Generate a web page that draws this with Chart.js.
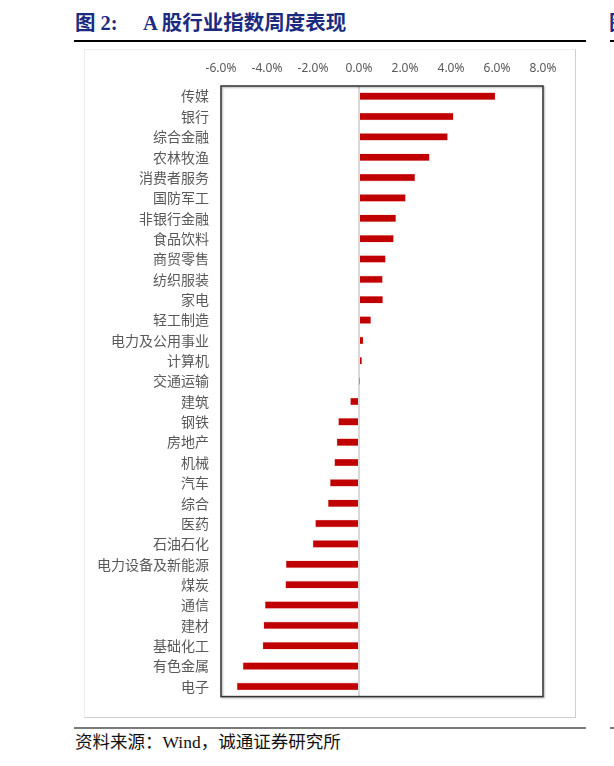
<!DOCTYPE html>
<html>
<head>
<meta charset="utf-8">
<script src="https://cdn.jsdelivr.net/npm/chart.js@4"></script>
<style>
  html, body { margin:0; padding:0; background:#fff; width:614px; height:766px; overflow:hidden; position:relative; }
  .abs { position:absolute; }
  .title { font-family:"Liberation Serif","Noto Sans CJK SC",serif; font-weight:bold; color:#1b2b80; font-size:20.5px; line-height:22px; white-space:nowrap; }
  .foot { font-family:"Liberation Serif","Noto Sans CJK SC",serif; color:#111; font-size:17.5px; line-height:20px; white-space:nowrap; }
</style>
</head>
<body>
<div class="abs title" style="left:75px; top:12px;">图 2:</div>
<div class="abs title" style="left:143px; top:12px;">A 股行业指数周度表现</div>
<div class="abs title" style="left:609px; top:12px;">图</div>
<div class="abs" style="left:74px; top:40px; width:512px; height:1.5px; background:#000;"></div>
<div class="abs" style="left:610px; top:40px; width:10px; height:1.5px; background:#000;"></div>
<div class="abs" style="left:84px; top:49px; width:490px; height:667px; border-top:1px solid #ededed; border-left:1px solid #ededed; border-right:1px solid #cfcfcf; border-bottom:1px solid #cfcfcf;"></div>
<div class="abs" style="left:84px; top:49px; width:491px; height:668px;"><canvas id="c"></canvas></div>
<div class="abs" style="left:74px; top:727px; width:512px; height:2px; background:#7a7a7a;"></div>
<div class="abs" style="left:610px; top:727px; width:10px; height:2px; background:#7a7a7a;"></div>
<div class="abs foot" style="left:75px; top:732px;">资料来源：Wind，诚通证券研究所</div>
<script>
const categories = ["传媒","银行","综合金融","农林牧渔","消费者服务","国防军工","非银行金融","食品饮料","商贸零售","纺织服装","家电","轻工制造","电力及公用事业","计算机","交通运输","建筑","钢铁","房地产","机械","汽车","综合","医药","石油石化","电力设备及新能源","煤炭","通信","建材","基础化工","有色金属","电子"];
const weeklyChange = [5.92,4.10,3.85,3.06,2.43,2.02,1.60,1.50,1.15,1.02,1.03,0.51,0.18,0.12,0.03,-0.37,-0.89,-0.96,-1.06,-1.25,-1.34,-1.89,-2.00,-3.17,-3.19,-4.08,-4.14,-4.18,-5.04,-5.30];
const xTicks = [-6,-4,-2,0,2,4,6,8];

const frame = {
  id:'frame',
  afterDatasetsDraw(chart){
    const a = chart.chartArea, ctx = chart.ctx;
    ctx.save();
    ctx.shadowColor = 'rgba(0,0,0,0.35)';
    ctx.shadowBlur = 2; ctx.shadowOffsetX = 1; ctx.shadowOffsetY = 1;
    ctx.strokeStyle = '#333'; ctx.lineWidth = 1.5;
    ctx.strokeRect(a.left, a.top, a.right - a.left, a.bottom - a.top);
    ctx.restore();
  }
};

new Chart(document.getElementById('c'), {
  type:'bar',
  data:{ labels:categories, datasets:[{ data:weeklyChange, backgroundColor:'#C00000', borderColor:'rgba(230,120,120,0.6)', borderWidth:0.6, barThickness:7 }] },
  options:{
    indexAxis:'y',
    responsive:true, maintainAspectRatio:false, animation:false,
    layout:{ padding:{ top:0, left:0, right:32, bottom:19 } },
    plugins:{ legend:{display:false}, tooltip:{enabled:false} },
    scales:{
      x:{
        position:'top', min:-6, max:8,
        afterBuildTicks(s){ s.ticks = xTicks.map(v=>({value:v})); },
        afterFit(s){ s.height = 37; },
        ticks:{ padding:10, color:'#595959', font:{ family:'"Noto Sans", sans-serif', size:12 }, callback:v=>v.toFixed(1)+'%' },
        grid:{ drawTicks:false, lineWidth:2, color:c=> (c.tick && c.tick.value===0) ? '#d9d9d9' : 'rgba(0,0,0,0)' },
        border:{ display:false }
      },
      y:{
        afterFit(s){ s.width = 137; },
        ticks:{ padding:12, color:'#595959', font:{ family:'"Noto Sans CJK SC", sans-serif', size:14 }, autoSkip:false },
        grid:{ display:false, drawTicks:false },
        border:{ display:false }
      }
    }
  },
  plugins:[frame]
});
</script>
</body>
</html>
